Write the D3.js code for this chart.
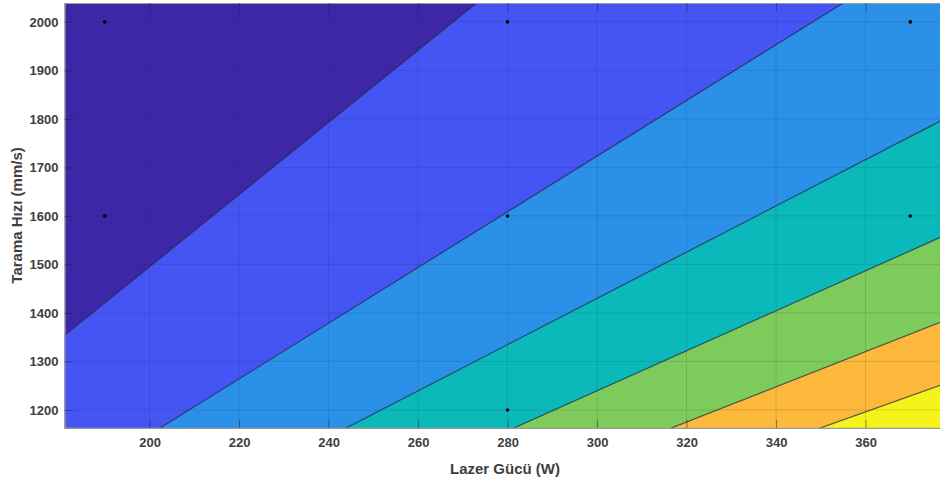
<!DOCTYPE html>
<html>
<head>
<meta charset="utf-8">
<script src="https://cdn.jsdelivr.net/npm/d3@7"></script>
<style>
  html, body { margin: 0; padding: 0; background: #ffffff; }
  svg { display: block; font-family: "Liberation Sans", Arial, sans-serif; }
</style>
</head>
<body>
<svg id="chart" width="940" height="477"></svg>
<script>
// Axis ticks
const powerTicks = [200, 220, 240, 260, 280, 300, 320, 340, 360];
const speedTicks = [1200, 1300, 1400, 1500, 1600, 1700, 1800, 1900, 2000];

// Filled contour bands, lowest level first (parula-like colormap)
const bandColors = ["#3D27A7", "#4455F3", "#2A90E8", "#0CB9BA", "#7DCB5B", "#FCB93B", "#F6F31A"];

// Contour boundaries between consecutive bands: two points [power W, speed mm/s] on each line
const boundaryStart = [[181.1, 1354.6], [202.5, 1163.5], [244.1, 1163.5], [281.6, 1163.5], [316.8, 1163.5], [350.1, 1163.5]];
const boundaryEnd   = [[273.1, 2039.0], [355.0, 2039.0], [377.0, 1797.0], [377.0, 1557.0], [377.0, 1382.0], [377.0, 1252.0]];

// Experimental design points
const pointPower = [190, 190, 280, 280, 280, 370, 370];
const pointSpeed = [2000, 1600, 2000, 1600, 1200, 2000, 1600];

const svg = d3.select("#chart");

const plotLeft = 64.5, plotTop = 3;
const x = d3.scaleLinear().domain([181, 379]).range([plotLeft, plotLeft + 198 * 4.475]);
const y = d3.scaleLinear().domain([1163, 2039]).range([427.9, plotTop]);

const plotW = 940 - plotLeft + 20;
const plotBottom = y.range()[0];
const plotH = plotBottom - plotTop;

svg.append("defs").append("clipPath").attr("id", "plot-clip")
  .append("rect").attr("x", plotLeft).attr("y", plotTop).attr("width", plotW).attr("height", plotH);

const plot = svg.append("g").attr("clip-path", "url(#plot-clip)");

// lowest band fills the whole axes
plot.append("rect")
  .attr("x", plotLeft).attr("y", plotTop).attr("width", plotW).attr("height", plotH)
  .attr("fill", bandColors[0]);

// line through two points, evaluated at a given power
function lineAt(p0, p1, p) {
  const s = (p1[1] - p0[1]) / (p1[0] - p0[0]);
  return p0[1] + s * (p - p0[0]);
}

const pMin = x.domain()[0] - 5, pMax = x.domain()[1] + 5;
const vFloor = y.domain()[0] - 500;

// each higher band covers the area below its boundary line
boundaryStart.forEach((p0, i) => {
  const p1 = boundaryEnd[i];
  const poly = [
    [pMin, lineAt(p0, p1, pMin)],
    [pMax, lineAt(p0, p1, pMax)],
    [pMax, vFloor],
    [pMin, vFloor]
  ];
  plot.append("path")
    .attr("d", d3.line().x(d => x(d[0])).y(d => y(d[1]))(poly) + "Z")
    .attr("fill", bandColors[i + 1]);
});

// grid
const grid = plot.append("g").attr("stroke", "#262626").attr("stroke-opacity", 0.13).attr("stroke-width", 1);
grid.selectAll("line.gx").data(powerTicks).join("line").attr("class", "gx")
  .attr("x1", d => x(d)).attr("x2", d => x(d))
  .attr("y1", plotTop).attr("y2", plotBottom);
grid.selectAll("line.gy").data(speedTicks).join("line").attr("class", "gy")
  .attr("x1", plotLeft).attr("x2", plotLeft + plotW)
  .attr("y1", d => y(d)).attr("y2", d => y(d));

// contour lines
boundaryStart.forEach((p0, i) => {
  const p1 = boundaryEnd[i];
  plot.append("line")
    .attr("x1", x(pMin)).attr("y1", y(lineAt(p0, p1, pMin)))
    .attr("x2", x(pMax)).attr("y2", y(lineAt(p0, p1, pMax)))
    .attr("stroke", "#262a4a").attr("stroke-opacity", 0.75).attr("stroke-width", 1.2);
});

// design points
plot.selectAll("circle.pt").data(pointPower).join("circle").attr("class", "pt")
  .attr("cx", (d) => x(d))
  .attr("cy", (d, i) => y(pointSpeed[i]))
  .attr("r", 1.8)
  .attr("fill", "#000");

// axes (ticks pointing inward)
const tickLen = 8;
const xAxis = svg.append("g").attr("transform", `translate(0,${plotBottom})`)
  .call(d3.axisBottom(x).tickValues(powerTicks).tickSize(-tickLen).tickPadding(10).tickFormat(d3.format("d")));
const xTop = svg.append("g").attr("transform", `translate(0,${plotTop})`)
  .call(d3.axisTop(x).tickValues(powerTicks).tickSize(-tickLen).tickFormat(""));
const yAxis = svg.append("g").attr("transform", `translate(${plotLeft},0)`)
  .call(d3.axisLeft(y).tickValues(speedTicks).tickSize(-tickLen).tickPadding(6).tickFormat(d3.format("d")));

[xAxis, xTop, yAxis].forEach(g => {
  g.select(".domain").attr("stroke", "#9a9a9a").attr("stroke-width", 1.2);
  g.selectAll(".tick line").attr("stroke", "#262626").attr("stroke-opacity", 0.45);
  g.selectAll(".tick text")
    .attr("fill", "#3e3e3e")
    .style("font-size", "13px")
    .style("font-weight", "bold");
});

// axis titles
svg.append("text")
  .attr("x", 505).attr("y", 474)
  .attr("text-anchor", "middle")
  .attr("fill", "#3e3e3e")
  .style("font-size", "15px").style("font-weight", "bold")
  .text("Lazer Gücü (W)");

svg.append("text")
  .attr("transform", `translate(22,${(plotTop + plotBottom) / 2}) rotate(-90)`)
  .attr("text-anchor", "middle")
  .attr("fill", "#3e3e3e")
  .style("font-size", "15px").style("font-weight", "bold")
  .text("Tarama Hızı (mm/s)");
</script>
</body>
</html>
